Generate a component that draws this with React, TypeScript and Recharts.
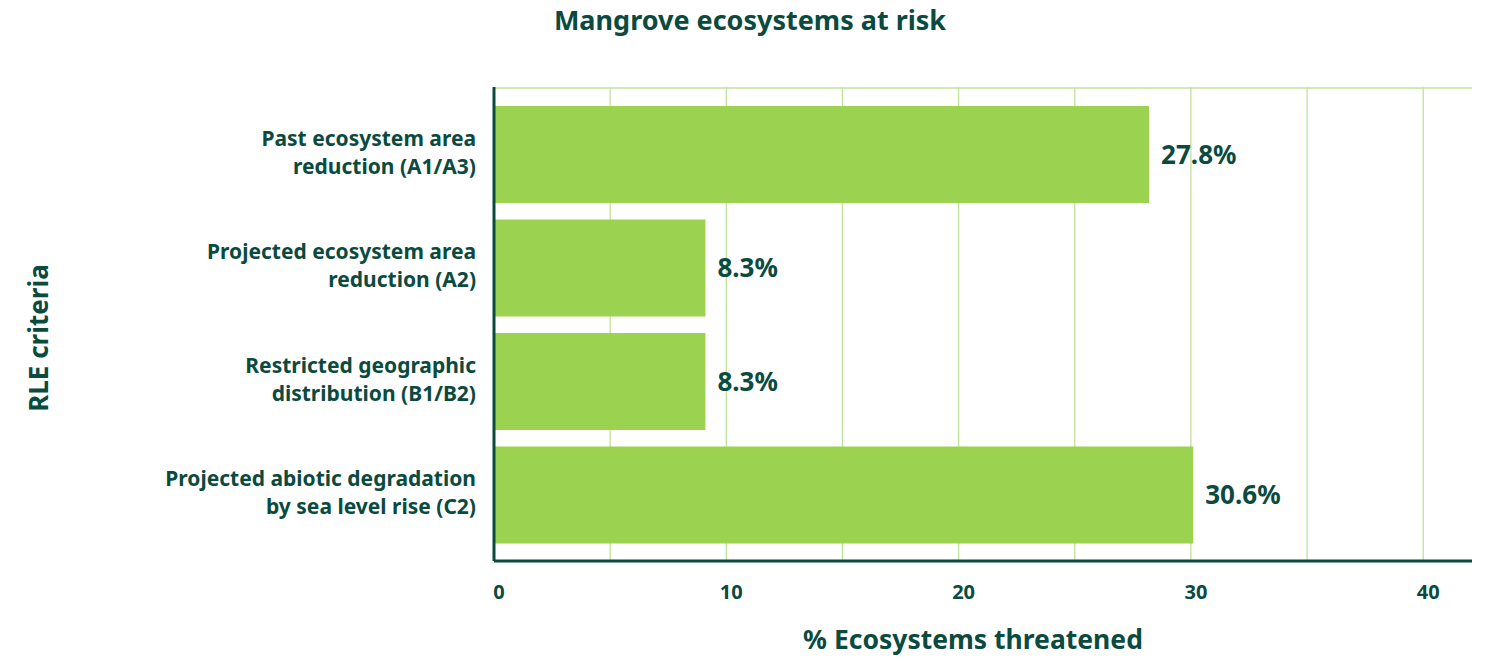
import { BarChart, Bar, XAxis, YAxis, CartesianGrid, LabelList } from 'recharts';

const criteria = [
  'Past ecosystem area\nreduction (A1/A3)',
  'Projected ecosystem area\nreduction (A2)',
  'Restricted geographic\ndistribution (B1/B2)',
  'Projected abiotic degradation\nby sea level rise (C2)',
];
// bar lengths as drawn in the picture
const barLengths = [28.2, 9.1, 9.1, 30.1];
// value labels as printed
const valueLabels = ['27.8%', '8.3%', '8.3%', '30.6%'];
const xTicks = [0, 5, 10, 15, 20, 25, 30, 35, 40];
const X_MAX = 42.1;

const data = criteria.map((name, i) => ({ name, value: barLengths[i], label: valueLabels[i] }));

const DARK = '#0b4a3f';
const BAR = '#9bd250';
const GRID = '#bfe29a';
const FONT = '"Noto Sans", "Open Sans", sans-serif';

function CriteriaTick({ x, y, payload }: any) {
  const lines = String(payload.value).split('\n');
  return (
    <text x={x} y={y} textAnchor="end" fill={DARK} fontSize={21} fontWeight={700} fontFamily={FONT}>
      {lines.map((line, i) => (
        <tspan key={i} x={x} dy={i === 0 ? -9 : 28}>
          {line}
        </tspan>
      ))}
    </text>
  );
}

// grid lines only at the tick values, none at the right edge
function gridX(props: any) {
  const o = props?.offset ?? { left: 494, width: 978 };
  return xTicks.map((t) => o.left + (o.width * t) / X_MAX);
}

export default function App() {
  return (
    <div style={{ position: 'absolute', left: 0, top: 0, width: 1493, height: 661, background: '#fff', fontFamily: FONT }}>
      <div style={{ position: 'absolute', left: 0, width: 1500, top: 1, textAlign: 'center', color: DARK, fontSize: 27, fontWeight: 700 }}>
        Mangrove ecosystems at risk
      </div>
      <div style={{ position: 'absolute', left: 494, width: 958, top: 621, textAlign: 'center', color: DARK, fontSize: 26.5, fontWeight: 700 }}>
        % Ecosystems threatened
      </div>
      <div
        style={{
          position: 'absolute',
          left: 38,
          top: 338,
          transform: 'translate(-50%, -50%) rotate(-90deg)',
          whiteSpace: 'nowrap',
          color: DARK,
          fontSize: 26,
          fontWeight: 700,
        }}
      >
        RLE criteria
      </div>
      <BarChart
        width={1493}
        height={661}
        data={data}
        layout="vertical"
        margin={{ top: 87, right: 21, bottom: 0, left: 0 }}
        barSize={97}
      >
        <CartesianGrid
          stroke={GRID}
          strokeWidth={1.3}
          horizontalPoints={[88]}
          verticalCoordinatesGenerator={gridX}
        />
        <XAxis
          type="number"
          domain={[0, X_MAX]}
          ticks={xTicks}
          interval={0}
          height={100}
          tickLine={false}
          axisLine={{ stroke: DARK, strokeWidth: 3 }}
          tickFormatter={(v: number) => (v % 10 === 0 ? String(v) : '')}
          tick={{ fill: DARK, fontSize: 20, fontWeight: 700, fontFamily: FONT, dx: 5 }}
          tickMargin={18}
        />
        <YAxis
          type="category"
          dataKey="name"
          width={494}
          tickLine={false}
          axisLine={{ stroke: DARK, strokeWidth: 3 }}
          tick={<CriteriaTick />}
          tickMargin={12}
          interval={0}
          padding={{ top: 11, bottom: 9 }}
        />
        <Bar dataKey="value" fill={BAR} isAnimationActive={false}>
          <LabelList
            dataKey="label"
            position="right"
            offset={12}
            style={{ fill: DARK, fontSize: 26, fontWeight: 700, fontFamily: FONT }}
          />
        </Bar>
      </BarChart>
    </div>
  );
}
